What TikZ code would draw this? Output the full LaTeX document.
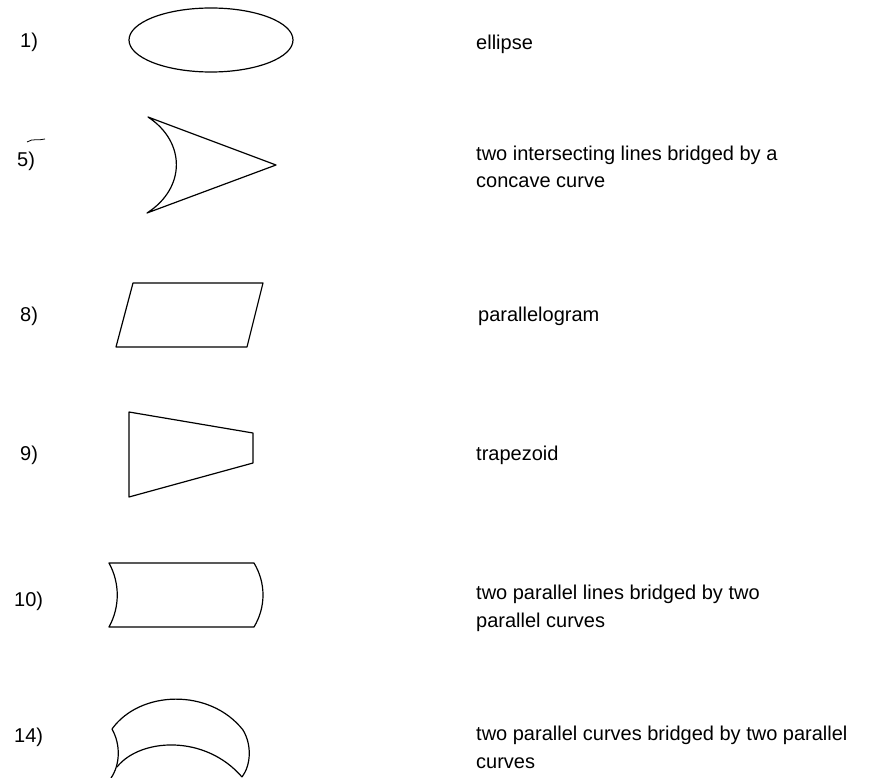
\documentclass[tikz,border=0pt]{standalone}
\usepackage{fontspec}
\setmainfont{Liberation Sans}
\begin{document}
\begin{tikzpicture}[x=1pt,y=-1pt,
  outl/.style={line width=1.2pt,line join=round},
  num/.style={anchor=base west,inner sep=0pt,font=\fontsize{20}{28}\selectfont},
  lab/.style={anchor=base west,inner sep=0pt,align=left,font=\fontsize{20}{28}\selectfont}]
\useasboundingbox[fill=white] (0,0) rectangle (880,778);
% shapes
\draw[outl] (211,40) ellipse [x radius=82, y radius=32];
\draw[outl] (148,117) -- (276,165) -- (147,213) .. controls (186,188) and (186,142) .. cycle;
\draw[outl] (133,283) -- (263,283) -- (247,347) -- (116,347) -- cycle;
\draw[outl] (129,412) -- (253,433) -- (253,463) -- (129,497) -- cycle;
\draw[outl] (109,563) -- (254,563) .. controls (266,583) and (266,607) .. (254,627) -- (109,627) .. controls (120,607) and (120,583) .. cycle;
\draw[outl] (112,729) .. controls (140,690) and (210,688) .. (243,730)
   .. controls (252,745) and (251,765) .. (242,777);
\draw[outl] (112,729) .. controls (121,745) and (120,765) .. (111,778);
\draw[outl] (117,767) .. controls (140,738) and (205,734) .. (242,777);
\draw[line width=0.8pt] (27,142) .. controls (33,138) and (38,141) .. (45,139);
% numbers
\node[num] (n1) at (20,48) {1)};
\node[num] (n5) at (17,167) {5)};
\node[num] (n8) at (20,321) {8)};
\node[num] (n9) at (20,460) {9)};
\node[num] (n10) at (14,606) {10)};
\node[num] (n14) at (14,742) {14)};
% labels (base = baseline of last line)
\node[lab] (l1) at (476,50) {ellipse};
\node[lab] (l5) at (476,188) {two intersecting lines bridged by a\\concave curve};
\node[lab] (l8) at (478,321) {parallelogram};
\node[lab] (l9) at (476,460) {trapezoid};
\node[lab] (l10) at (476,627) {two parallel lines bridged by two\\parallel curves};
\node[lab] (l14) at (476,768) {two parallel curves bridged by two parallel\\curves};
\end{tikzpicture}
\end{document}
